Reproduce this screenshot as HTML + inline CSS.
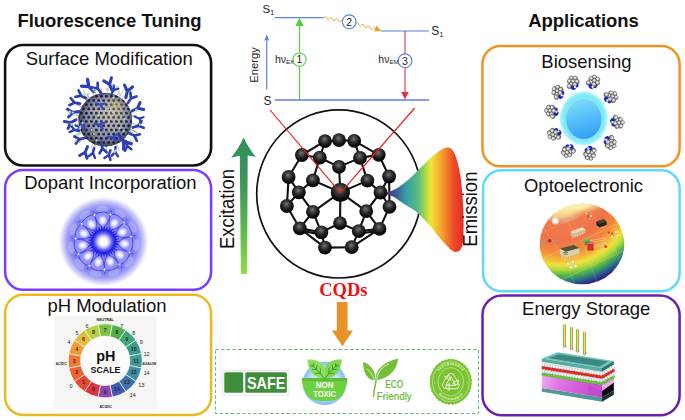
<!DOCTYPE html>
<html>
<head>
<meta charset="utf-8">
<title>CQDs Fluorescence Tuning and Applications</title>
<style>
html,body{margin:0;padding:0;background:#fff;}
body{width:685px;height:420px;overflow:hidden;font-family:"Liberation Sans",sans-serif;}
svg{display:block;}
text{font-family:"Liberation Sans",sans-serif;}
.lbl{font-size:19.1px;fill:#111;}
.ttl{font-size:19.1px;font-weight:bold;fill:#111;}
</style>
</head>
<body>
<svg width="685" height="420" viewBox="0 0 685 420">
<defs>
<radialGradient id="atomG" cx="0.46" cy="0.36" r="0.6" gradientUnits="objectBoundingBox">
<stop offset="0" stop-color="#747472"/><stop offset="0.4" stop-color="#363634"/><stop offset="0.75" stop-color="#121212"/><stop offset="1" stop-color="#060606"/>
</radialGradient>
<linearGradient id="excG" x1="0" y1="136" x2="0" y2="274" gradientUnits="userSpaceOnUse">
<stop offset="0" stop-color="#2f8f5e"/><stop offset="0.35" stop-color="#3c965a"/><stop offset="0.7" stop-color="#5fb84e"/><stop offset="1" stop-color="#93dc48"/>
</linearGradient>
<linearGradient id="emG" x1="386" y1="0" x2="464" y2="0" gradientUnits="userSpaceOnUse">
<stop offset="0" stop-color="#4a3876"/><stop offset="0.1" stop-color="#3f4f90"/><stop offset="0.26" stop-color="#35a0a6"/><stop offset="0.41" stop-color="#58bc80"/><stop offset="0.51" stop-color="#b2d945"/><stop offset="0.575" stop-color="#f0e634"/><stop offset="0.72" stop-color="#f3a02e"/><stop offset="0.87" stop-color="#ee4a27"/><stop offset="1" stop-color="#e3282b"/>
</linearGradient>
<radialGradient id="nanoG" cx="105.2" cy="118" r="27" fx="110" fy="110" gradientUnits="userSpaceOnUse">
<stop offset="0" stop-color="#d0d3e6"/><stop offset="0.6" stop-color="#aab0d0"/><stop offset="1" stop-color="#747aa2"/>
</radialGradient>
<pattern id="meshP" x="0" y="0" width="5" height="8.4" patternUnits="userSpaceOnUse">
<ellipse cx="1.25" cy="2.1" rx="1.6" ry="1.45" fill="#181824"/><ellipse cx="3.75" cy="6.3" rx="1.6" ry="1.45" fill="#181824"/>
</pattern>
<radialGradient id="nanoS" cx="105.2" cy="118" r="27" fx="119" fy="101" gradientUnits="userSpaceOnUse">
<stop offset="0" stop-color="#d4c070" stop-opacity="0.6"/><stop offset="0.4" stop-color="#a09460" stop-opacity="0.25"/><stop offset="0.8" stop-color="#30303c" stop-opacity="0.15"/><stop offset="1" stop-color="#1c1c26" stop-opacity="0.55"/>
</radialGradient>
<radialGradient id="dopGlow" cx="0.5" cy="0.5" r="0.5">
<stop offset="0" stop-color="#7272f0"/><stop offset="0.7" stop-color="#7e7ef2"/><stop offset="0.8" stop-color="#9a9af5"/><stop offset="0.9" stop-color="#cdcdfa"/><stop offset="0.97" stop-color="#f4f4fe"/><stop offset="1" stop-color="#ffffff"/>
</radialGradient>
<radialGradient id="dopPet" cx="0.5" cy="0.5" r="0.5">
<stop offset="0" stop-color="#ffffff"/><stop offset="0.4" stop-color="#ececff"/><stop offset="0.8" stop-color="#b4b4fa"/><stop offset="1" stop-color="#9292f5"/>
</radialGradient>
<radialGradient id="dopCore" cx="0.5" cy="0.5" r="0.5">
<stop offset="0" stop-color="#ffffff"/><stop offset="0.26" stop-color="#ffffff"/><stop offset="0.46" stop-color="#c8c8fc"/><stop offset="0.66" stop-color="#6a6af0"/><stop offset="0.86" stop-color="#2a2ae8"/><stop offset="1" stop-color="#2020e6"/>
</radialGradient>
<g id="mol">
<circle cx="0.8" cy="5.0" r="2.9" fill="#1020e4"/><circle cx="3.9" cy="2.6" r="2.4" fill="#1a2ee8"/>
<circle cx="-2.1" cy="-5.2" r="2.55" fill="url(#molG)" stroke="#3a3a3a" stroke-width="0.45"/>
<circle cx="2.1" cy="-5.2" r="2.55" fill="url(#molG)" stroke="#3a3a3a" stroke-width="0.45"/>
<circle cx="-4.2" cy="-1.7" r="2.55" fill="url(#molG)" stroke="#3a3a3a" stroke-width="0.45"/>
<circle cx="0" cy="-1.7" r="2.55" fill="url(#molG)" stroke="#3a3a3a" stroke-width="0.45"/>
<circle cx="4.2" cy="-1.7" r="2.55" fill="url(#molG)" stroke="#3a3a3a" stroke-width="0.45"/>
<circle cx="-2.1" cy="1.8" r="2.55" fill="url(#molG)" stroke="#3a3a3a" stroke-width="0.45"/>
<circle cx="2.1" cy="1.8" r="2.55" fill="url(#molG)" stroke="#3a3a3a" stroke-width="0.45"/>
<circle cx="-4.0" cy="4.0" r="2.55" fill="url(#molG)" stroke="#3a3a3a" stroke-width="0.45"/>
<circle cx="2.3" cy="4.7" r="1.25" fill="#f4f4ff"/>
</g>
<radialGradient id="molG" cx="0.42" cy="0.38" r="0.62">
<stop offset="0" stop-color="#ffffff"/><stop offset="0.35" stop-color="#cfcfcf"/><stop offset="0.75" stop-color="#8c8c8c"/><stop offset="1" stop-color="#3c3c3c"/>
</radialGradient>
<radialGradient id="bioGlow" cx="0.5" cy="0.5" r="0.5">
<stop offset="0" stop-color="#74e2f4"/><stop offset="0.76" stop-color="#78e6f5"/><stop offset="0.9" stop-color="#8feff7"/><stop offset="0.97" stop-color="#bdf6fa"/><stop offset="1" stop-color="#eafcfd"/>
</radialGradient>
<linearGradient id="bioIn" x1="0.35" y1="0" x2="0.6" y2="1">
<stop offset="0" stop-color="#82dcfb"/><stop offset="0.45" stop-color="#56c2f9"/><stop offset="1" stop-color="#339cf4"/>
</linearGradient>
<radialGradient id="optoG" cx="560" cy="190" r="100" gradientUnits="userSpaceOnUse">
<stop offset="0" stop-color="#f7f3b0"/><stop offset="0.2" stop-color="#f7f0ac"/><stop offset="0.27" stop-color="#f5c684"/><stop offset="0.34" stop-color="#f07c4e"/><stop offset="0.5" stop-color="#f0724a"/><stop offset="0.62" stop-color="#f4883a"/><stop offset="0.7" stop-color="#f2b83a"/><stop offset="0.75" stop-color="#eee23c"/><stop offset="0.8" stop-color="#b0d83e"/><stop offset="0.85" stop-color="#58b848"/><stop offset="0.91" stop-color="#2a7a80"/><stop offset="0.97" stop-color="#2b2a8c"/><stop offset="1" stop-color="#2b2a8c"/>
</radialGradient>
<linearGradient id="pinkG" x1="541.8" y1="376" x2="602" y2="398" gradientUnits="userSpaceOnUse">
<stop offset="0" stop-color="#eeb0f0"/><stop offset="0.25" stop-color="#e27ae4"/><stop offset="0.6" stop-color="#d45ad8"/><stop offset="1" stop-color="#c84ccf"/>
</linearGradient>
<radialGradient id="optoTop" cx="0.5" cy="0.5" r="0.5">
<stop offset="0" stop-color="#f8f4b4"/><stop offset="0.55" stop-color="#f8f0aa" stop-opacity="0.95"/><stop offset="1" stop-color="#f6d890" stop-opacity="0"/>
</radialGradient>
<!--DEFS-->
</defs>
<rect width="685" height="420" fill="#fff"/>

<!-- ===== Titles ===== -->
<text class="ttl" transform="translate(109.5 26.9) scale(0.967 1)" text-anchor="middle">Fluorescence Tuning</text>
<text class="ttl" transform="translate(583.5 26.9) scale(0.967 1)" text-anchor="middle">Applications</text>

<!-- ===== Left boxes ===== -->
<rect x="5.1" y="45" width="206" height="120.5" rx="18" ry="18" fill="#fff" stroke="#111" stroke-width="2.6"/>
<rect x="5.1" y="169.9" width="206" height="119.9" rx="18" ry="18" fill="#fff" stroke="#7b3cff" stroke-width="2.5"/>
<rect x="5.1" y="294.8" width="206" height="120.1" rx="18" ry="18" fill="#fff" stroke="#eab920" stroke-width="2.5"/>
<text class="lbl" transform="translate(109.3 65.1) scale(0.967 1)" text-anchor="middle">Surface Modification</text>
<text class="lbl" transform="translate(110.4 188.9) scale(0.967 1)" text-anchor="middle">Dopant Incorporation</text>
<text class="lbl" transform="translate(107.0 312.3) scale(0.967 1)" text-anchor="middle">pH Modulation</text>

<!-- ===== Right boxes ===== -->
<rect x="482.4" y="46.05" width="197.2" height="120.3" rx="18" ry="18" fill="#fff" stroke="#ee9422" stroke-width="2.5"/>
<rect x="483.1" y="170.3" width="196.5" height="120.9" rx="18" ry="18" fill="#fff" stroke="#5fd8fa" stroke-width="2.5"/>
<rect x="482.5" y="295.45" width="197.1" height="119.9" rx="19.5" ry="19.5" fill="#fff" stroke="#6a1fb0" stroke-width="2.5"/>
<text class="lbl" transform="translate(586.5 67.8) scale(0.967 1)" text-anchor="middle">Biosensing</text>
<text class="lbl" transform="translate(583.5 192.1) scale(0.967 1)" text-anchor="middle">Optoelectronic</text>
<text class="lbl" transform="translate(586.2 315.2) scale(0.967 1)" text-anchor="middle">Energy Storage</text>

<g id="nano" transform="translate(0 1.8)">
<g stroke="#55586a" stroke-width="0.4">
<line x1="94.4" y1="139.6" x2="91.0" y2="146.4"/>
<line x1="91.1" y1="98.4" x2="87.0" y2="92.6"/>
<line x1="81.7" y1="112.6" x2="73.0" y2="110.6"/>
<line x1="127.7" y1="126.6" x2="136.8" y2="130.1"/>
<line x1="128.7" y1="123.6" x2="137.7" y2="125.8"/>
<line x1="127.0" y1="128.2" x2="133.6" y2="131.3"/>
<line x1="83.7" y1="129.0" x2="73.4" y2="134.3"/>
<line x1="122.4" y1="134.9" x2="128.1" y2="140.6"/>
<line x1="88.4" y1="100.7" x2="79.8" y2="91.8"/>
<line x1="83.9" y1="106.8" x2="75.8" y2="102.5"/>
<line x1="129.1" y1="114.4" x2="135.9" y2="113.4"/>
<line x1="120.4" y1="99.3" x2="125.7" y2="92.7"/>
<line x1="120.1" y1="137.0" x2="124.6" y2="142.8"/>
<line x1="96.5" y1="140.5" x2="92.4" y2="151.3"/>
<line x1="115.4" y1="139.9" x2="119.7" y2="149.1"/>
<line x1="89.7" y1="99.5" x2="84.0" y2="92.7"/>
<line x1="82.2" y1="110.9" x2="75.4" y2="108.8"/>
<line x1="127.6" y1="126.8" x2="135.0" y2="129.7"/>
<line x1="95.0" y1="96.1" x2="91.1" y2="87.8"/>
<line x1="95.7" y1="140.2" x2="91.7" y2="149.6"/>
<line x1="82.1" y1="125.0" x2="74.0" y2="127.5"/>
<line x1="111.8" y1="94.8" x2="114.8" y2="84.4"/>
<line x1="106.1" y1="142.1" x2="106.5" y2="152.2"/>
<line x1="81.4" y1="114.2" x2="69.6" y2="112.3"/>
<line x1="102.1" y1="94.1" x2="101.0" y2="85.7"/>
<line x1="129.1" y1="115.0" x2="136.5" y2="114.1"/>
<line x1="84.2" y1="129.9" x2="74.4" y2="135.4"/>
<line x1="119.1" y1="137.7" x2="124.7" y2="145.5"/>
<line x1="128.6" y1="123.9" x2="139.0" y2="126.5"/>
<line x1="107.4" y1="94.0" x2="108.3" y2="83.9"/>
<line x1="122.3" y1="101.0" x2="128.4" y2="95.0"/>
<line x1="97.1" y1="95.3" x2="93.6" y2="85.6"/>
<line x1="84.1" y1="106.4" x2="75.8" y2="101.9"/>
<line x1="118.1" y1="97.6" x2="124.7" y2="87.2"/>
<line x1="81.4" y1="121.9" x2="70.9" y2="123.6"/>
<line x1="127.6" y1="127.0" x2="137.7" y2="131.0"/>
<line x1="90.7" y1="98.7" x2="83.1" y2="88.7"/>
<line x1="115.7" y1="96.3" x2="119.4" y2="88.8"/>
<line x1="87.0" y1="133.9" x2="79.0" y2="140.9"/>
<line x1="129.1" y1="121.4" x2="138.4" y2="122.7"/>
</g>
<circle cx="105.2" cy="118" r="26.8" fill="url(#nanoG)"/>
<circle cx="105.2" cy="118" r="26.8" fill="url(#meshP)"/>
<circle cx="105.2" cy="118" r="26.8" fill="url(#nanoS)"/>
<g transform="translate(90.4 86.3) rotate(-48) scale(1.40)"><path d="M0 3.5V-1.5M0 -1.5L-3.2 -5.6M0 -1.5L3.2 -5.6" fill="none" stroke="#2f3fb2" stroke-width="2.4" stroke-linecap="round" stroke-linejoin="round"/></g>
<g transform="translate(98.8 88.2) rotate(-39) scale(1.12)"><path d="M0 3.5V-1.5M0 -1.5L-3.2 -5.6M0 -1.5L3.2 -5.6" fill="none" stroke="#2f3fb2" stroke-width="2.4" stroke-linecap="round" stroke-linejoin="round"/></g>
<g transform="translate(110.3 84.3) rotate(-22) scale(1.29)"><path d="M0 3.5V-1.5M0 -1.5L-3.2 -5.6M0 -1.5L3.2 -5.6" fill="none" stroke="#2f3fb2" stroke-width="2.4" stroke-linecap="round" stroke-linejoin="round"/></g>
<g transform="translate(113.2 89.4) rotate(34) scale(0.90)"><path d="M0 3.5V-1.5M0 -1.5L-3.2 -5.6M0 -1.5L3.2 -5.6" fill="none" stroke="#2f3fb2" stroke-width="2.4" stroke-linecap="round" stroke-linejoin="round"/></g>
<g transform="translate(126.9 91.3) rotate(13) scale(1.29)"><path d="M0 3.5V-1.5M0 -1.5L-3.2 -5.6M0 -1.5L3.2 -5.6" fill="none" stroke="#2f3fb2" stroke-width="2.4" stroke-linecap="round" stroke-linejoin="round"/></g>
<g transform="translate(130.0 98.0) rotate(33) scale(1.12)"><path d="M0 3.5V-1.5M0 -1.5L-3.2 -5.6M0 -1.5L3.2 -5.6" fill="none" stroke="#2f3fb2" stroke-width="2.4" stroke-linecap="round" stroke-linejoin="round"/></g>
<g transform="translate(135.8 107.3) rotate(63) scale(1.23)"><path d="M0 3.5V-1.5M0 -1.5L-3.2 -5.6M0 -1.5L3.2 -5.6" fill="none" stroke="#2f3fb2" stroke-width="2.4" stroke-linecap="round" stroke-linejoin="round"/></g>
<g transform="translate(137.8 116.1) rotate(113) scale(0.90)"><path d="M0 3.5V-1.5M0 -1.5L-3.2 -5.6M0 -1.5L3.2 -5.6" fill="none" stroke="#2f3fb2" stroke-width="2.4" stroke-linecap="round" stroke-linejoin="round"/></g>
<g transform="translate(136.6 124.5) rotate(72) scale(1.12)"><path d="M0 3.5V-1.5M0 -1.5L-3.2 -5.6M0 -1.5L3.2 -5.6" fill="none" stroke="#2f3fb2" stroke-width="2.4" stroke-linecap="round" stroke-linejoin="round"/></g>
<g transform="translate(132.7 133.1) rotate(115) scale(1.12)"><path d="M0 3.5V-1.5M0 -1.5L-3.2 -5.6M0 -1.5L3.2 -5.6" fill="none" stroke="#2f3fb2" stroke-width="2.4" stroke-linecap="round" stroke-linejoin="round"/></g>
<g transform="translate(122.6 138.1) rotate(143) scale(1.46)"><path d="M0 3.5V-1.5M0 -1.5L-3.2 -5.6M0 -1.5L3.2 -5.6" fill="none" stroke="#2f3fb2" stroke-width="2.4" stroke-linecap="round" stroke-linejoin="round"/></g>
<g transform="translate(126.9 142.8) rotate(166) scale(1.01)"><path d="M0 3.5V-1.5M0 -1.5L-3.2 -5.6M0 -1.5L3.2 -5.6" fill="none" stroke="#2f3fb2" stroke-width="2.4" stroke-linecap="round" stroke-linejoin="round"/></g>
<g transform="translate(115.2 148.7) rotate(184) scale(1.01)"><path d="M0 3.5V-1.5M0 -1.5L-3.2 -5.6M0 -1.5L3.2 -5.6" fill="none" stroke="#2f3fb2" stroke-width="2.4" stroke-linecap="round" stroke-linejoin="round"/></g>
<g transform="translate(109.3 151.8) rotate(199) scale(1.01)"><path d="M0 3.5V-1.5M0 -1.5L-3.2 -5.6M0 -1.5L3.2 -5.6" fill="none" stroke="#2f3fb2" stroke-width="2.4" stroke-linecap="round" stroke-linejoin="round"/></g>
<g transform="translate(102.1 144.8) rotate(171) scale(1.12)"><path d="M0 3.5V-1.5M0 -1.5L-3.2 -5.6M0 -1.5L3.2 -5.6" fill="none" stroke="#2f3fb2" stroke-width="2.4" stroke-linecap="round" stroke-linejoin="round"/></g>
<g transform="translate(93.3 149.8) rotate(195) scale(1.01)"><path d="M0 3.5V-1.5M0 -1.5L-3.2 -5.6M0 -1.5L3.2 -5.6" fill="none" stroke="#2f3fb2" stroke-width="2.4" stroke-linecap="round" stroke-linejoin="round"/></g>
<g transform="translate(85.9 148.7) rotate(202) scale(1.23)"><path d="M0 3.5V-1.5M0 -1.5L-3.2 -5.6M0 -1.5L3.2 -5.6" fill="none" stroke="#2f3fb2" stroke-width="2.4" stroke-linecap="round" stroke-linejoin="round"/></g>
<g transform="translate(81.2 137.0) rotate(259) scale(1.12)"><path d="M0 3.5V-1.5M0 -1.5L-3.2 -5.6M0 -1.5L3.2 -5.6" fill="none" stroke="#2f3fb2" stroke-width="2.4" stroke-linecap="round" stroke-linejoin="round"/></g>
<g transform="translate(75.8 128.4) rotate(283) scale(1.01)"><path d="M0 3.5V-1.5M0 -1.5L-3.2 -5.6M0 -1.5L3.2 -5.6" fill="none" stroke="#2f3fb2" stroke-width="2.4" stroke-linecap="round" stroke-linejoin="round"/></g>
<g transform="translate(72.3 120.0) rotate(242) scale(1.23)"><path d="M0 3.5V-1.5M0 -1.5L-3.2 -5.6M0 -1.5L3.2 -5.6" fill="none" stroke="#2f3fb2" stroke-width="2.4" stroke-linecap="round" stroke-linejoin="round"/></g>
<g transform="translate(74.8 110.3) rotate(-98) scale(1.23)"><path d="M0 3.5V-1.5M0 -1.5L-3.2 -5.6M0 -1.5L3.2 -5.6" fill="none" stroke="#2f3fb2" stroke-width="2.4" stroke-linecap="round" stroke-linejoin="round"/></g>
<g transform="translate(76.2 101.1) rotate(-79) scale(1.12)"><path d="M0 3.5V-1.5M0 -1.5L-3.2 -5.6M0 -1.5L3.2 -5.6" fill="none" stroke="#2f3fb2" stroke-width="2.4" stroke-linecap="round" stroke-linejoin="round"/></g>
<g transform="translate(82.6 94.7) rotate(-63) scale(1.12)"><path d="M0 3.5V-1.5M0 -1.5L-3.2 -5.6M0 -1.5L3.2 -5.6" fill="none" stroke="#2f3fb2" stroke-width="2.4" stroke-linecap="round" stroke-linejoin="round"/></g>
<g transform="translate(81.2 124.9) rotate(253) scale(0.90)"><path d="M0 3.5V-1.5M0 -1.5L-3.2 -5.6M0 -1.5L3.2 -5.6" fill="none" stroke="#2f3fb2" stroke-width="2.4" stroke-linecap="round" stroke-linejoin="round"/></g>
<g transform="translate(99.0 102.6) rotate(110) scale(0.90)"><path d="M0 3.5V-1.5M0 -1.5L-3.2 -5.6M0 -1.5L3.2 -5.6" fill="none" stroke="#3a4cc4" stroke-width="2.4" stroke-linecap="round" stroke-linejoin="round"/></g>
<g transform="translate(98.1 122.6) rotate(105) scale(1.00)"><path d="M0 3.5V-1.5M0 -1.5L-3.2 -5.6M0 -1.5L3.2 -5.6" fill="none" stroke="#3a4cc4" stroke-width="2.4" stroke-linecap="round" stroke-linejoin="round"/></g>
<g transform="translate(111.0 135.4) rotate(95) scale(1.00)"><path d="M0 3.5V-1.5M0 -1.5L-3.2 -5.6M0 -1.5L3.2 -5.6" fill="none" stroke="#3a4cc4" stroke-width="2.4" stroke-linecap="round" stroke-linejoin="round"/></g>
<g transform="translate(82.5 122.4) rotate(190) scale(0.90)"><path d="M0 3.5V-1.5M0 -1.5L-3.2 -5.6M0 -1.5L3.2 -5.6" fill="none" stroke="#3a4cc4" stroke-width="2.4" stroke-linecap="round" stroke-linejoin="round"/></g>
<g fill="#bfe6cf" stroke="#7fae96" stroke-width="0.25">
<circle cx="98.4" cy="113.7" r="1.05"/>
<circle cx="72.7" cy="110.8" r="1.05"/>
<circle cx="93.4" cy="87.8" r="1.05"/>
<circle cx="80.3" cy="125.0" r="1.05"/>
<circle cx="91.5" cy="128.2" r="1.05"/>
<circle cx="131.5" cy="128.8" r="1.05"/>
<circle cx="130.8" cy="139.2" r="1.05"/>
<circle cx="69.8" cy="109.7" r="1.05"/>
<circle cx="112.8" cy="110.3" r="1.05"/>
<circle cx="137.1" cy="108.8" r="1.05"/>
<circle cx="115.0" cy="104.4" r="1.05"/>
<circle cx="96.8" cy="138.4" r="1.05"/>
<circle cx="71.5" cy="122.6" r="1.05"/>
<circle cx="136.2" cy="108.1" r="1.05"/>
<circle cx="106.8" cy="87.6" r="1.05"/>
<circle cx="95.2" cy="89.6" r="1.05"/>
<circle cx="94.0" cy="132.3" r="1.05"/>
<circle cx="83.4" cy="92.8" r="1.05"/>
<circle cx="117.3" cy="85.0" r="1.05"/>
<circle cx="115.2" cy="148.7" r="1.05"/>
<circle cx="108.1" cy="106.7" r="1.05"/>
<circle cx="80.1" cy="126.7" r="1.05"/>
<circle cx="119.9" cy="126.2" r="1.05"/>
<circle cx="114.6" cy="150.1" r="1.05"/>
<circle cx="71.8" cy="122.3" r="1.05"/>
<circle cx="119.8" cy="93.1" r="1.05"/>
<circle cx="82.6" cy="121.1" r="1.05"/>
<circle cx="123.6" cy="129.2" r="1.05"/>
<circle cx="75.6" cy="139.1" r="1.05"/>
<circle cx="124.3" cy="117.2" r="1.05"/>
<circle cx="113.4" cy="95.9" r="1.05"/>
<circle cx="88.2" cy="92.2" r="1.05"/>
<circle cx="139.9" cy="122.7" r="1.05"/>
<circle cx="69.5" cy="112.0" r="1.05"/>
</g>
</g>
<g id="dopant">
<circle cx="103.5" cy="241.6" r="45" fill="url(#dopGlow)"/>
<ellipse cx="128.9" cy="262.0" rx="3.4" ry="6.2" transform="rotate(38.8 128.9 262.0)" fill="#bcbcfb" opacity="0.55"/>
<ellipse cx="113.8" cy="272.5" rx="3.4" ry="6.2" transform="rotate(71.5 113.8 272.5)" fill="#bcbcfb" opacity="0.55"/>
<ellipse cx="95.5" cy="273.2" rx="3.4" ry="6.2" transform="rotate(104.2 95.5 273.2)" fill="#bcbcfb" opacity="0.55"/>
<ellipse cx="79.7" cy="263.9" rx="3.4" ry="6.2" transform="rotate(136.9 79.7 263.9)" fill="#bcbcfb" opacity="0.55"/>
<ellipse cx="71.4" cy="247.4" rx="3.4" ry="6.2" transform="rotate(169.7 71.4 247.4)" fill="#bcbcfb" opacity="0.55"/>
<ellipse cx="73.4" cy="229.2" rx="3.4" ry="6.2" transform="rotate(202.4 73.4 229.2)" fill="#bcbcfb" opacity="0.55"/>
<ellipse cx="84.9" cy="214.9" rx="3.4" ry="6.2" transform="rotate(235.1 84.9 214.9)" fill="#bcbcfb" opacity="0.55"/>
<ellipse cx="102.3" cy="209.0" rx="3.4" ry="6.2" transform="rotate(267.9 102.3 209.0)" fill="#bcbcfb" opacity="0.55"/>
<ellipse cx="120.1" cy="213.5" rx="3.4" ry="6.2" transform="rotate(300.6 120.1 213.5)" fill="#bcbcfb" opacity="0.55"/>
<ellipse cx="132.6" cy="227.0" rx="3.4" ry="6.2" transform="rotate(333.3 132.6 227.0)" fill="#bcbcfb" opacity="0.55"/>
<ellipse cx="135.9" cy="245.0" rx="3.4" ry="6.2" transform="rotate(366.0 135.9 245.0)" fill="#bcbcfb" opacity="0.55"/>
<path d="M114.0 250.1Q122.2 248.6 129.4 252.3C129.6 257.5 124.7 263.7 119.5 264.6Q114.4 258.4 114.0 250.1Z" fill="#9292f5" stroke="#2b2bea" stroke-width="0.7"/>
<ellipse cx="120.0" cy="254.9" rx="5.4" ry="4.6" transform="rotate(38.8 120.0 254.9)" fill="url(#dopPet)"/>
<path d="M107.8 254.4Q115.5 257.6 119.5 264.6C116.9 269.1 109.4 271.6 104.5 269.6Q103.6 261.6 107.8 254.4Z" fill="#9292f5" stroke="#2b2bea" stroke-width="0.7"/>
<ellipse cx="110.2" cy="261.7" rx="5.4" ry="4.6" transform="rotate(71.5 110.2 261.7)" fill="url(#dopPet)"/>
<path d="M100.2 254.7Q104.9 261.5 104.5 269.6C99.8 272.0 92.2 270.1 89.3 265.7Q92.7 258.5 100.2 254.7Z" fill="#9292f5" stroke="#2b2bea" stroke-width="0.7"/>
<ellipse cx="98.3" cy="262.2" rx="5.4" ry="4.6" transform="rotate(104.2 98.3 262.2)" fill="url(#dopPet)"/>
<path d="M93.6 250.8Q93.9 259.2 89.3 265.7C84.0 265.2 78.6 259.5 78.5 254.2Q85.3 250.0 93.6 250.8Z" fill="#9292f5" stroke="#2b2bea" stroke-width="0.7"/>
<ellipse cx="88.0" cy="256.1" rx="5.4" ry="4.6" transform="rotate(136.9 88.0 256.1)" fill="url(#dopPet)"/>
<path d="M90.2 244.0Q86.0 251.2 78.5 254.2C74.3 250.9 72.9 243.2 75.7 238.7Q83.7 238.8 90.2 244.0Z" fill="#9292f5" stroke="#2b2bea" stroke-width="0.7"/>
<ellipse cx="82.6" cy="245.4" rx="5.4" ry="4.6" transform="rotate(169.7 82.6 245.4)" fill="url(#dopPet)"/>
<path d="M91.0 236.5Q83.5 240.2 75.7 238.7C73.9 233.7 76.9 226.4 81.7 224.1Q88.4 228.5 91.0 236.5Z" fill="#9292f5" stroke="#2b2bea" stroke-width="0.7"/>
<ellipse cx="83.9" cy="233.5" rx="5.4" ry="4.6" transform="rotate(202.4 83.9 233.5)" fill="url(#dopPet)"/>
<path d="M95.8 230.5Q87.5 229.6 81.7 224.1C82.9 218.9 89.4 214.5 94.6 215.0Q97.8 222.4 95.8 230.5Z" fill="#9292f5" stroke="#2b2bea" stroke-width="0.7"/>
<ellipse cx="91.4" cy="224.2" rx="5.4" ry="4.6" transform="rotate(235.1 91.4 224.2)" fill="url(#dopPet)"/>
<path d="M103.0 228.1Q96.5 222.9 94.6 215.0C98.4 211.4 106.3 211.1 110.4 214.5Q109.1 222.4 103.0 228.1Z" fill="#9292f5" stroke="#2b2bea" stroke-width="0.7"/>
<ellipse cx="102.7" cy="220.4" rx="5.4" ry="4.6" transform="rotate(267.9 102.7 220.4)" fill="url(#dopPet)"/>
<path d="M110.4 230.0Q107.7 222.1 110.4 214.5C115.6 213.5 122.3 217.5 124.0 222.5Q118.6 228.5 110.4 230.0Z" fill="#9292f5" stroke="#2b2bea" stroke-width="0.7"/>
<ellipse cx="114.3" cy="223.3" rx="5.4" ry="4.6" transform="rotate(300.6 114.3 223.3)" fill="url(#dopPet)"/>
<path d="M115.6 235.5Q117.6 227.4 124.0 222.5C128.9 224.5 132.4 231.5 131.0 236.6Q123.3 238.7 115.6 235.5Z" fill="#9292f5" stroke="#2b2bea" stroke-width="0.7"/>
<ellipse cx="122.4" cy="232.1" rx="5.4" ry="4.6" transform="rotate(333.3 122.4 232.1)" fill="url(#dopPet)"/>
<path d="M116.9 243.0Q123.0 237.3 131.0 236.6C134.1 240.9 133.3 248.7 129.4 252.3Q121.7 249.9 116.9 243.0Z" fill="#9292f5" stroke="#2b2bea" stroke-width="0.7"/>
<ellipse cx="124.6" cy="243.8" rx="5.4" ry="4.6" transform="rotate(366.0 124.6 243.8)" fill="url(#dopPet)"/>
<line x1="126.2" y1="250.9" x2="133.5" y2="254.0" stroke="#2b2bea" stroke-width="0.6"/>
<path transform="translate(129.4 252.3) rotate(22.4)" d="M-2.8 0L-0.55 -0.55L0 -2.6L0.55 -0.55L2.8 0L0.55 0.55L0 2.6L-0.55 0.55Z" fill="#fff" stroke="#4a4af0" stroke-width="0.3"/>
<line x1="117.5" y1="261.7" x2="122.1" y2="268.3" stroke="#2b2bea" stroke-width="0.6"/>
<path transform="translate(119.5 264.6) rotate(55.1)" d="M-2.8 0L-0.55 -0.55L0 -2.6L0.55 -0.55L2.8 0L0.55 0.55L0 2.6L-0.55 0.55Z" fill="#fff" stroke="#4a4af0" stroke-width="0.3"/>
<line x1="104.4" y1="266.1" x2="104.7" y2="274.1" stroke="#2b2bea" stroke-width="0.6"/>
<path transform="translate(104.5 269.6) rotate(87.9)" d="M-2.8 0L-0.55 -0.55L0 -2.6L0.55 -0.55L2.8 0L0.55 0.55L0 2.6L-0.55 0.55Z" fill="#fff" stroke="#4a4af0" stroke-width="0.3"/>
<line x1="91.0" y1="262.7" x2="87.0" y2="269.6" stroke="#2b2bea" stroke-width="0.6"/>
<path transform="translate(89.3 265.7) rotate(120.6)" d="M-2.8 0L-0.55 -0.55L0 -2.6L0.55 -0.55L2.8 0L0.55 0.55L0 2.6L-0.55 0.55Z" fill="#fff" stroke="#4a4af0" stroke-width="0.3"/>
<line x1="81.6" y1="252.6" x2="74.5" y2="256.2" stroke="#2b2bea" stroke-width="0.6"/>
<path transform="translate(78.5 254.2) rotate(153.3)" d="M-2.8 0L-0.55 -0.55L0 -2.6L0.55 -0.55L2.8 0L0.55 0.55L0 2.6L-0.55 0.55Z" fill="#fff" stroke="#4a4af0" stroke-width="0.3"/>
<line x1="79.1" y1="239.0" x2="71.2" y2="238.2" stroke="#2b2bea" stroke-width="0.6"/>
<path transform="translate(75.7 238.7) rotate(186.0)" d="M-2.8 0L-0.55 -0.55L0 -2.6L0.55 -0.55L2.8 0L0.55 0.55L0 2.6L-0.55 0.55Z" fill="#fff" stroke="#4a4af0" stroke-width="0.3"/>
<line x1="84.4" y1="226.3" x2="78.2" y2="221.3" stroke="#2b2bea" stroke-width="0.6"/>
<path transform="translate(81.7 224.1) rotate(218.8)" d="M-2.8 0L-0.55 -0.55L0 -2.6L0.55 -0.55L2.8 0L0.55 0.55L0 2.6L-0.55 0.55Z" fill="#fff" stroke="#4a4af0" stroke-width="0.3"/>
<line x1="95.7" y1="218.4" x2="93.2" y2="210.8" stroke="#2b2bea" stroke-width="0.6"/>
<path transform="translate(94.6 215.0) rotate(251.5)" d="M-2.8 0L-0.55 -0.55L0 -2.6L0.55 -0.55L2.8 0L0.55 0.55L0 2.6L-0.55 0.55Z" fill="#fff" stroke="#4a4af0" stroke-width="0.3"/>
<line x1="109.5" y1="217.9" x2="111.5" y2="210.1" stroke="#2b2bea" stroke-width="0.6"/>
<path transform="translate(110.4 214.5) rotate(284.2)" d="M-2.8 0L-0.55 -0.55L0 -2.6L0.55 -0.55L2.8 0L0.55 0.55L0 2.6L-0.55 0.55Z" fill="#fff" stroke="#4a4af0" stroke-width="0.3"/>
<line x1="121.4" y1="224.9" x2="127.2" y2="219.4" stroke="#2b2bea" stroke-width="0.6"/>
<path transform="translate(124.0 222.5) rotate(316.9)" d="M-2.8 0L-0.55 -0.55L0 -2.6L0.55 -0.55L2.8 0L0.55 0.55L0 2.6L-0.55 0.55Z" fill="#fff" stroke="#4a4af0" stroke-width="0.3"/>
<line x1="127.6" y1="237.2" x2="135.5" y2="235.8" stroke="#2b2bea" stroke-width="0.6"/>
<path transform="translate(131.0 236.6) rotate(349.7)" d="M-2.8 0L-0.55 -0.55L0 -2.6L0.55 -0.55L2.8 0L0.55 0.55L0 2.6L-0.55 0.55Z" fill="#fff" stroke="#4a4af0" stroke-width="0.3"/>
<polygon points="118.3,247.7 113.8,247.0 116.9,250.4 112.5,248.9 115.0,252.8 111.0,250.4 112.6,254.7 109.2,251.7 110.0,256.2 107.2,252.6 107.1,257.2 105.0,253.1 104.1,257.6 102.8,253.2 101.1,257.4 100.7,252.8 98.1,256.7 98.6,252.1 95.4,255.4 96.7,251.0 92.9,253.6 95.0,249.5 90.8,251.4 93.7,247.8 89.2,248.8 92.7,245.8 88.1,246.0 92.1,243.7 87.6,243.0 91.9,241.5 87.6,239.9 92.1,239.3 88.2,236.9 92.8,237.2 89.4,234.1 93.8,235.2 91.0,231.6 95.2,233.5 93.1,229.4 96.9,232.1 95.6,227.7 98.8,231.0 98.4,226.4 100.9,230.3 101.4,225.7 103.1,230.0 104.4,225.6 105.3,230.1 107.4,226.1 107.4,230.7 110.3,227.1 109.4,231.6 112.9,228.7 111.2,232.9 115.2,230.7 112.7,234.5 117.0,233.1 113.9,236.4 118.4,235.8 114.7,238.4 119.2,238.7 115.1,240.6 119.5,241.8 115.0,242.8 119.2,244.8 114.6,245.0" fill="#2020e6"/>
<circle cx="103.5" cy="241.6" r="12.6" fill="url(#dopCore)"/>
</g>
<g id="ph">
<rect x="54" y="315.5" width="102.8" height="94.2" fill="#f5f5f4"/>
<path d="M98.0 324.5A37.0 37.0 0 0 1 112.4 324.5L110.0 336.6A24.7 24.7 0 0 0 100.4 336.6Z" fill="#7fc241" stroke="#f8f8f6" stroke-width="0.7"/>
<path d="M112.4 324.5A37.0 37.0 0 0 1 125.8 330.0L118.9 340.3A24.7 24.7 0 0 0 110.0 336.6Z" fill="#52b04a" stroke="#f8f8f6" stroke-width="0.7"/>
<path d="M125.8 330.0A37.0 37.0 0 0 1 136.0 340.2L125.7 347.1A24.7 24.7 0 0 0 118.9 340.3Z" fill="#3ea777" stroke="#f8f8f6" stroke-width="0.7"/>
<path d="M136.0 340.2A37.0 37.0 0 0 1 141.5 353.6L129.4 356.0A24.7 24.7 0 0 0 125.7 347.1Z" fill="#3a9d8b" stroke="#f8f8f6" stroke-width="0.7"/>
<path d="M141.5 353.6A37.0 37.0 0 0 1 141.5 368.0L129.4 365.6A24.7 24.7 0 0 0 129.4 356.0Z" fill="#3b9b97" stroke="#f8f8f6" stroke-width="0.7"/>
<path d="M141.5 368.0A37.0 37.0 0 0 1 136.0 381.4L125.7 374.5A24.7 24.7 0 0 0 129.4 365.6Z" fill="#3b8da0" stroke="#f8f8f6" stroke-width="0.7"/>
<path d="M136.0 381.4A37.0 37.0 0 0 1 125.8 391.6L118.9 381.3A24.7 24.7 0 0 0 125.7 374.5Z" fill="#3c73ab" stroke="#f8f8f6" stroke-width="0.7"/>
<path d="M125.8 391.6A37.0 37.0 0 0 1 112.4 397.1L110.0 385.0A24.7 24.7 0 0 0 118.9 381.3Z" fill="#4257b2" stroke="#f8f8f6" stroke-width="0.7"/>
<path d="M112.4 397.1A37.0 37.0 0 0 1 98.0 397.1L100.4 385.0A24.7 24.7 0 0 0 110.0 385.0Z" fill="#8d48ad" stroke="#f8f8f6" stroke-width="0.7"/>
<path d="M98.0 397.1A37.0 37.0 0 0 1 84.6 391.6L91.5 381.3A24.7 24.7 0 0 0 100.4 385.0Z" fill="#d8353f" stroke="#f8f8f6" stroke-width="0.7"/>
<path d="M84.6 391.6A37.0 37.0 0 0 1 74.4 381.4L84.7 374.5A24.7 24.7 0 0 0 91.5 381.3Z" fill="#e5482f" stroke="#f8f8f6" stroke-width="0.7"/>
<path d="M74.4 381.4A37.0 37.0 0 0 1 68.9 368.0L81.0 365.6A24.7 24.7 0 0 0 84.7 374.5Z" fill="#eb6330" stroke="#f8f8f6" stroke-width="0.7"/>
<path d="M68.9 368.0A37.0 37.0 0 0 1 68.9 353.6L81.0 356.0A24.7 24.7 0 0 0 81.0 365.6Z" fill="#ee7a31" stroke="#f8f8f6" stroke-width="0.7"/>
<path d="M68.9 353.6A37.0 37.0 0 0 1 74.4 340.2L84.7 347.1A24.7 24.7 0 0 0 81.0 356.0Z" fill="#f09a36" stroke="#f8f8f6" stroke-width="0.7"/>
<path d="M74.4 340.2A37.0 37.0 0 0 1 84.6 330.0L91.5 340.3A24.7 24.7 0 0 0 84.7 347.1Z" fill="#e3bd3a" stroke="#f8f8f6" stroke-width="0.7"/>
<path d="M84.6 330.0A37.0 37.0 0 0 1 98.0 324.5L100.4 336.6A24.7 24.7 0 0 0 91.5 340.3Z" fill="#b9cf3d" stroke="#f8f8f6" stroke-width="0.7"/>
<circle cx="105.2" cy="360.8" r="24.4" fill="#fbfbfb"/>
<g style="font-size:5.2px;font-weight:bold;fill:#2a2a2a" text-anchor="middle">
<text x="105.2" y="331.8">7</text>
<text x="117.0" y="334.1">8</text>
<text x="127.0" y="340.8">9</text>
<text x="133.7" y="350.8">10</text>
<text x="136.1" y="362.6">11</text>
<text x="133.7" y="374.4">12</text>
<text x="127.0" y="384.4">13</text>
<text x="117.0" y="391.1">14</text>
<text x="105.2" y="393.5">9</text>
<text x="93.4" y="391.1">0</text>
<text x="83.4" y="384.4">1</text>
<text x="76.7" y="374.4">2</text>
<text x="74.3" y="362.6">3</text>
<text x="76.7" y="350.8">4</text>
<text x="83.4" y="340.8">6</text>
<text x="93.4" y="334.1">8</text>
</g>
<g style="font-size:5.3px;fill:#1a1a1a" text-anchor="middle">
<text x="86.9" y="327.5">6</text>
<text x="76.9" y="334.8">5</text>
<text x="69.0" y="343.7">4</text>
<text x="122.1" y="327.5">7</text>
<text x="133.8" y="334.6">8</text>
<text x="141.2" y="344.1">9</text>
<text x="146.6" y="356.0">12</text>
<text x="146.6" y="375.1">14</text>
<text x="141.4" y="387.0">13</text>
<text x="132.8" y="397.2">14</text>
<text x="70.9" y="388.4">0</text>
</g>
<g style="font-size:3.6px;font-weight:bold;fill:#222" text-anchor="middle">
<text x="105.2" y="321.2">NEUTRAL</text>
<text x="105.7" y="407.6">ACIDIC</text>
<text x="61.2" y="364.6" style="font-size:3.2px">ACIDIC</text>
<text x="149.2" y="364.6" style="font-size:2.8px">ALKALINE</text>
</g>
<text x="105.9" y="360.9" text-anchor="middle" style="font-size:14.4px;font-weight:bold;fill:#111">pH</text>
<text x="105.5" y="372.8" text-anchor="middle" textLength="30" lengthAdjust="spacingAndGlyphs" style="font-size:8.6px;font-weight:bold;fill:#111">SCALE</text>
</g>
<!--LEFTIMAGES-->
<g id="bio">
<ellipse cx="583.8" cy="118.4" rx="24.3" ry="27.3" fill="url(#bioGlow)"/>
<ellipse cx="583.8" cy="119.0" rx="18.2" ry="20.6" fill="url(#bioIn)" stroke="#9be6fb" stroke-width="0.9"/>
<use href="#mol" transform="translate(573.1 82.9) rotate(3) scale(0.9)"/>
<use href="#mol" transform="translate(593.3 82.1) rotate(35) scale(0.9)"/>
<use href="#mol" transform="translate(610.7 97.1) rotate(72) scale(0.9)"/>
<use href="#mol" transform="translate(617.1 122.1) rotate(-244) scale(0.9)"/>
<use href="#mol" transform="translate(610 142.4) rotate(-208) scale(0.9)"/>
<use href="#mol" transform="translate(589.8 153.1) rotate(-170) scale(0.9)"/>
<use href="#mol" transform="translate(568.3 150.7) rotate(-134) scale(0.9)"/>
<use href="#mol" transform="translate(554.5 134) rotate(-98) scale(0.9)"/>
<use href="#mol" transform="translate(551.7 111.4) rotate(-58) scale(0.9)"/>
<use href="#mol" transform="translate(558.1 92.4) rotate(-25) scale(0.9)"/>
</g>
<g id="opto">
<clipPath id="optoClip"><ellipse cx="582" cy="243.9" rx="42.3" ry="40.4"/></clipPath>
<ellipse cx="582" cy="243.9" rx="42.3" ry="40.4" fill="url(#optoG)"/>
<g clip-path="url(#optoClip)">
<ellipse cx="577" cy="201" rx="30" ry="13" fill="url(#optoTop)"/>
<g stroke="#ffd9a0" stroke-opacity="0.35" stroke-width="0.6" fill="none">
<path d="M535 236 L600 206"/><path d="M535 262 L628 219"/><path d="M548 286 L630 248"/>
<path d="M556 206 L584 246 L600 290"/><path d="M584 204 L612 240 L626 280"/><path d="M540 222 L566 262 L578 292"/>
</g>
<path d="M535 262 L628 219 M548 286 L630 248" stroke="#d9f07a" stroke-opacity="0.25" stroke-width="0.6"/>
<!-- white LED with leads -->
<path d="M557 220.4 L577.5 216.4 M557 221.8 L577.8 218.2" stroke="#b9aba0" stroke-width="0.6"/>
<circle cx="555.4" cy="221" r="3.6" fill="#fff" opacity="0.55"/><circle cx="555.4" cy="221" r="2.3" fill="#fff"/>
<!-- colour dots -->
<rect x="585.6" y="212.6" width="1.7" height="1.7" fill="#f4e84a"/><rect x="588.4" y="213.6" width="1.7" height="1.7" fill="#5cc04a"/><rect x="587" y="215.6" width="1.7" height="1.7" fill="#e04030"/><rect x="590.3" y="215.2" width="1.7" height="1.7" fill="#f0f0d0"/>
<!-- black IC -->
<path d="M596.4 221.6 L603.6 219.2 L606.6 221.4 L606.6 225 L599.4 227.4 L596.4 225.2 Z" fill="#26221e"/>
<path d="M596.4 221.6 L603.6 219.2 L606.6 221.4 L599.4 223.8 Z" fill="#4a443c"/>
<path d="M597.5 226 v1.6 M600 227.4 v1.6 M602.5 226.6 v1.6 M605 225.8 v1.6" stroke="#d8d0c0" stroke-width="0.5"/>
<!-- tan resistor array -->
<path d="M570.6 231.4 L582.6 227.2 L585.4 229.4 L585.4 233 L573.4 237.2 L570.6 235 Z" fill="#d9b98c"/>
<path d="M570.6 231.4 L582.6 227.2 L585.4 229.4 L573.4 233.6 Z" fill="#efd9b4"/>
<path d="M572.4 236.6 v2.2 M575 235.8 v2.2 M577.6 235 v2.2 M580.2 234 v2.2 M582.8 233.2 v2.2" stroke="#e8e0d0" stroke-width="0.55"/>
<!-- small parts right -->
<rect x="607.8" y="231.6" width="2" height="2" fill="#e23b32"/><rect x="611.2" y="232.6" width="2" height="2" fill="#e23b32"/><rect x="615" y="231" width="2.2" height="2" fill="#f3ead8"/>
<rect x="611" y="236" width="2.2" height="2" fill="#f3ead8"/><rect x="616.6" y="234.6" width="2.2" height="2" fill="#efe4cf"/>
<!-- diode -->
<path d="M540.5 241.6 L560 240" stroke="#a89a94" stroke-width="1.1"/>
<ellipse cx="549.6" cy="240.8" rx="2" ry="1.7" fill="#c8242a"/>
<!-- green & red LEDs with leads -->
<path d="M590 240.6 L606 237.8 M590.6 242.4 L606.6 239.6 M592 245.400 L607 242.600 M592 247.400 L607.600 244.600" stroke="#e6e0c0" stroke-width="0.5"/>
<rect x="584.8" y="239.2" width="5" height="6" fill="#2fa84a"/><rect x="584.8" y="239.2" width="5" height="1.4" fill="#5fd070"/>
<rect x="587.4" y="242.4" width="6.2" height="8.2" fill="#d62f2c"/><rect x="587.4" y="242.4" width="6.2" height="1.6" fill="#f06a5a"/>
<path d="M596 252.4 L604.6 247.2" stroke="#e6e0c0" stroke-width="0.5"/><circle cx="605.6" cy="246.6" r="1.5" fill="#f03a30"/>
<!-- large DIP IC -->
<path d="M560 248.6 L573.6 244.8 L579.4 248 L579.4 253.6 L565.8 257.6 L560 254.2 Z" fill="#d8cfa4"/>
<path d="M560 248.6 L573.6 244.8 L579.4 248 L565.8 251.800 Z" fill="#55503a"/>
<path d="M562 256 v2.600 M564.400 257.200 v2.600 M567 257.600 v2.600 M569.600 256.800 v2.600 M572.200 256 v2.600 M574.800 255.300 v2.600 M577.400 254.500 v2.600" stroke="#ece6d0" stroke-width="0.55"/>
<path d="M563 252.600 h5 M563.600 254.200 h4" stroke="#403a30" stroke-width="0.6"/>
<!-- white cluster -->
<g fill="#f4f1ea" stroke="#c9c2b4" stroke-width="0.3">
<rect x="567" y="262.600" width="2.600" height="2.400" transform="rotate(-20 568 264)"/><rect x="571.500" y="261" width="2.600" height="2.400" transform="rotate(-20 572 262)"/>
<rect x="569.600" y="266.400" width="2.600" height="2.400" transform="rotate(-20 570 267)"/><rect x="574.200" y="265" width="2.600" height="2.400" transform="rotate(-20 575 266)"/>
</g>
</g>
</g>
<g id="estore">
<rect x="563.0" y="324.3" width="1" height="21.9" fill="#4fd267"/>
<rect x="564.0" y="324.3" width="1" height="23.3" fill="#f0e63c"/>
<rect x="565.0" y="324.3" width="1" height="21.9" fill="#f58a3c"/>
<path d="M561.9 345.2L564.5 348.6L564.5 346.0Z" fill="#4aa8ea"/>
<path d="M567.1 345.2L564.5 348.6L564.5 346.0Z" fill="#f0505a"/>
<path d="M563.8 346.0L564.5 348.6L565.2 346.0Z" fill="#e6ee40"/>
<rect x="570.0" y="327.1" width="1" height="21.5" fill="#4fd267"/>
<rect x="571.0" y="327.1" width="1" height="22.9" fill="#f0e63c"/>
<rect x="572.0" y="327.1" width="1" height="21.5" fill="#f58a3c"/>
<path d="M568.9 347.6L571.5 351.0L571.5 348.4Z" fill="#4aa8ea"/>
<path d="M574.1 347.6L571.5 351.0L571.5 348.4Z" fill="#f0505a"/>
<path d="M570.8 348.4L571.5 351.0L572.2 348.4Z" fill="#e6ee40"/>
<rect x="576.0" y="329.3" width="1" height="21.6" fill="#4fd267"/>
<rect x="577.0" y="329.3" width="1" height="23.0" fill="#f0e63c"/>
<rect x="578.0" y="329.3" width="1" height="21.6" fill="#f58a3c"/>
<path d="M574.9 349.9L577.5 353.3L577.5 350.7Z" fill="#4aa8ea"/>
<path d="M580.1 349.9L577.5 353.3L577.5 350.7Z" fill="#f0505a"/>
<path d="M576.8 350.7L577.5 353.3L578.2 350.7Z" fill="#e6ee40"/>
<rect x="583.0" y="331.9" width="1" height="21.7" fill="#4fd267"/>
<rect x="584.0" y="331.9" width="1" height="23.1" fill="#f0e63c"/>
<rect x="585.0" y="331.9" width="1" height="21.7" fill="#f58a3c"/>
<path d="M581.9 352.6L584.5 356.0L584.5 353.4Z" fill="#4aa8ea"/>
<path d="M587.1 352.6L584.5 356.0L584.5 353.4Z" fill="#f0505a"/>
<path d="M583.8 353.4L584.5 356.0L585.2 353.4Z" fill="#e6ee40"/>
<path d="M541.8 388.0L602.0 397.5L602.0 401.7L541.8 391.8Z" fill="#4d9c94"/>
<path d="M602.0 397.5L613.8 390.6L613.8 394.8L602.0 401.7Z" fill="#1c2a2a"/>
<path d="M541.8 375.2L602.0 384.7L602.0 397.5L541.8 388.0Z" fill="url(#pinkG)"/>
<path d="M602.0 384.7L613.8 377.8L613.8 390.6L602.0 397.5Z" fill="#f0a6f2"/>
<path d="M602.0 390.9L613.8 382.8L613.8 390.6L602.0 397.5Z" fill="#0c0c10"/>
<path d="M588.0 385.5L602.0 390.5L602.0 397.5L588.0 395.3Z" fill="#b848c2" opacity="0.55"/>
<circle cx="613.0" cy="377.1" r="1.6" fill="#6ccf3a" stroke="#3c8f20" stroke-width="0.35"/>
<circle cx="610.6" cy="378.5" r="1.6" fill="#6ccf3a" stroke="#3c8f20" stroke-width="0.35"/>
<circle cx="608.3" cy="379.8" r="1.6" fill="#6ccf3a" stroke="#3c8f20" stroke-width="0.35"/>
<circle cx="605.9" cy="381.2" r="1.6" fill="#6ccf3a" stroke="#3c8f20" stroke-width="0.35"/>
<circle cx="603.6" cy="382.6" r="1.6" fill="#6ccf3a" stroke="#3c8f20" stroke-width="0.35"/>
<circle cx="543.3" cy="374.2" r="1.65" fill="#6ccf3a" stroke="#3c8f20" stroke-width="0.35"/>
<circle cx="546.1" cy="374.7" r="1.65" fill="#6ccf3a" stroke="#3c8f20" stroke-width="0.35"/>
<circle cx="548.8" cy="375.1" r="1.65" fill="#6ccf3a" stroke="#3c8f20" stroke-width="0.35"/>
<circle cx="551.6" cy="375.5" r="1.65" fill="#6ccf3a" stroke="#3c8f20" stroke-width="0.35"/>
<circle cx="554.3" cy="376.0" r="1.65" fill="#6ccf3a" stroke="#3c8f20" stroke-width="0.35"/>
<circle cx="557.1" cy="376.4" r="1.65" fill="#6ccf3a" stroke="#3c8f20" stroke-width="0.35"/>
<circle cx="559.9" cy="376.9" r="1.65" fill="#6ccf3a" stroke="#3c8f20" stroke-width="0.35"/>
<circle cx="562.6" cy="377.3" r="1.65" fill="#6ccf3a" stroke="#3c8f20" stroke-width="0.35"/>
<circle cx="565.4" cy="377.7" r="1.65" fill="#6ccf3a" stroke="#3c8f20" stroke-width="0.35"/>
<circle cx="568.2" cy="378.2" r="1.65" fill="#6ccf3a" stroke="#3c8f20" stroke-width="0.35"/>
<circle cx="570.9" cy="378.6" r="1.65" fill="#6ccf3a" stroke="#3c8f20" stroke-width="0.35"/>
<circle cx="573.7" cy="379.0" r="1.65" fill="#6ccf3a" stroke="#3c8f20" stroke-width="0.35"/>
<circle cx="576.4" cy="379.5" r="1.65" fill="#6ccf3a" stroke="#3c8f20" stroke-width="0.35"/>
<circle cx="579.2" cy="379.9" r="1.65" fill="#6ccf3a" stroke="#3c8f20" stroke-width="0.35"/>
<circle cx="582.0" cy="380.3" r="1.65" fill="#6ccf3a" stroke="#3c8f20" stroke-width="0.35"/>
<circle cx="584.7" cy="380.8" r="1.65" fill="#6ccf3a" stroke="#3c8f20" stroke-width="0.35"/>
<circle cx="587.5" cy="381.2" r="1.65" fill="#6ccf3a" stroke="#3c8f20" stroke-width="0.35"/>
<circle cx="590.3" cy="381.7" r="1.65" fill="#6ccf3a" stroke="#3c8f20" stroke-width="0.35"/>
<circle cx="593.0" cy="382.1" r="1.65" fill="#6ccf3a" stroke="#3c8f20" stroke-width="0.35"/>
<circle cx="595.8" cy="382.5" r="1.65" fill="#6ccf3a" stroke="#3c8f20" stroke-width="0.35"/>
<circle cx="598.5" cy="383.0" r="1.65" fill="#6ccf3a" stroke="#3c8f20" stroke-width="0.35"/>
<circle cx="601.3" cy="383.4" r="1.65" fill="#6ccf3a" stroke="#3c8f20" stroke-width="0.35"/>
<circle cx="613.0" cy="374.0" r="1.6" fill="#f6f6f6" stroke="#9a9a9a" stroke-width="0.35"/>
<circle cx="610.6" cy="375.4" r="1.6" fill="#f6f6f6" stroke="#9a9a9a" stroke-width="0.35"/>
<circle cx="608.3" cy="376.7" r="1.6" fill="#f6f6f6" stroke="#9a9a9a" stroke-width="0.35"/>
<circle cx="605.9" cy="378.1" r="1.6" fill="#f6f6f6" stroke="#9a9a9a" stroke-width="0.35"/>
<circle cx="603.6" cy="379.5" r="1.6" fill="#f6f6f6" stroke="#9a9a9a" stroke-width="0.35"/>
<circle cx="543.3" cy="371.1" r="1.65" fill="#f6f6f6" stroke="#9a9a9a" stroke-width="0.35"/>
<circle cx="546.1" cy="371.6" r="1.65" fill="#f6f6f6" stroke="#9a9a9a" stroke-width="0.35"/>
<circle cx="548.8" cy="372.0" r="1.65" fill="#f6f6f6" stroke="#9a9a9a" stroke-width="0.35"/>
<circle cx="551.6" cy="372.4" r="1.65" fill="#f6f6f6" stroke="#9a9a9a" stroke-width="0.35"/>
<circle cx="554.3" cy="372.9" r="1.65" fill="#f6f6f6" stroke="#9a9a9a" stroke-width="0.35"/>
<circle cx="557.1" cy="373.3" r="1.65" fill="#f6f6f6" stroke="#9a9a9a" stroke-width="0.35"/>
<circle cx="559.9" cy="373.8" r="1.65" fill="#f6f6f6" stroke="#9a9a9a" stroke-width="0.35"/>
<circle cx="562.6" cy="374.2" r="1.65" fill="#f6f6f6" stroke="#9a9a9a" stroke-width="0.35"/>
<circle cx="565.4" cy="374.6" r="1.65" fill="#f6f6f6" stroke="#9a9a9a" stroke-width="0.35"/>
<circle cx="568.2" cy="375.1" r="1.65" fill="#f6f6f6" stroke="#9a9a9a" stroke-width="0.35"/>
<circle cx="570.9" cy="375.5" r="1.65" fill="#f6f6f6" stroke="#9a9a9a" stroke-width="0.35"/>
<circle cx="573.7" cy="375.9" r="1.65" fill="#f6f6f6" stroke="#9a9a9a" stroke-width="0.35"/>
<circle cx="576.4" cy="376.4" r="1.65" fill="#f6f6f6" stroke="#9a9a9a" stroke-width="0.35"/>
<circle cx="579.2" cy="376.8" r="1.65" fill="#f6f6f6" stroke="#9a9a9a" stroke-width="0.35"/>
<circle cx="582.0" cy="377.2" r="1.65" fill="#f6f6f6" stroke="#9a9a9a" stroke-width="0.35"/>
<circle cx="584.7" cy="377.7" r="1.65" fill="#f6f6f6" stroke="#9a9a9a" stroke-width="0.35"/>
<circle cx="587.5" cy="378.1" r="1.65" fill="#f6f6f6" stroke="#9a9a9a" stroke-width="0.35"/>
<circle cx="590.3" cy="378.6" r="1.65" fill="#f6f6f6" stroke="#9a9a9a" stroke-width="0.35"/>
<circle cx="593.0" cy="379.0" r="1.65" fill="#f6f6f6" stroke="#9a9a9a" stroke-width="0.35"/>
<circle cx="595.8" cy="379.4" r="1.65" fill="#f6f6f6" stroke="#9a9a9a" stroke-width="0.35"/>
<circle cx="598.5" cy="379.9" r="1.65" fill="#f6f6f6" stroke="#9a9a9a" stroke-width="0.35"/>
<circle cx="601.3" cy="380.3" r="1.65" fill="#f6f6f6" stroke="#9a9a9a" stroke-width="0.35"/>
<circle cx="613.0" cy="370.6" r="1.6" fill="#ee2a24" stroke="#a01410" stroke-width="0.35"/>
<circle cx="610.6" cy="372.0" r="1.6" fill="#ee2a24" stroke="#a01410" stroke-width="0.35"/>
<circle cx="608.3" cy="373.3" r="1.6" fill="#ee2a24" stroke="#a01410" stroke-width="0.35"/>
<circle cx="605.9" cy="374.7" r="1.6" fill="#ee2a24" stroke="#a01410" stroke-width="0.35"/>
<circle cx="603.6" cy="376.1" r="1.6" fill="#ee2a24" stroke="#a01410" stroke-width="0.35"/>
<circle cx="543.3" cy="367.7" r="1.65" fill="#ee2a24" stroke="#a01410" stroke-width="0.35"/>
<circle cx="546.1" cy="368.2" r="1.65" fill="#ee2a24" stroke="#a01410" stroke-width="0.35"/>
<circle cx="548.8" cy="368.6" r="1.65" fill="#ee2a24" stroke="#a01410" stroke-width="0.35"/>
<circle cx="551.6" cy="369.0" r="1.65" fill="#ee2a24" stroke="#a01410" stroke-width="0.35"/>
<circle cx="554.3" cy="369.5" r="1.65" fill="#ee2a24" stroke="#a01410" stroke-width="0.35"/>
<circle cx="557.1" cy="369.9" r="1.65" fill="#ee2a24" stroke="#a01410" stroke-width="0.35"/>
<circle cx="559.9" cy="370.4" r="1.65" fill="#ee2a24" stroke="#a01410" stroke-width="0.35"/>
<circle cx="562.6" cy="370.8" r="1.65" fill="#ee2a24" stroke="#a01410" stroke-width="0.35"/>
<circle cx="565.4" cy="371.2" r="1.65" fill="#ee2a24" stroke="#a01410" stroke-width="0.35"/>
<circle cx="568.2" cy="371.7" r="1.65" fill="#ee2a24" stroke="#a01410" stroke-width="0.35"/>
<circle cx="570.9" cy="372.1" r="1.65" fill="#ee2a24" stroke="#a01410" stroke-width="0.35"/>
<circle cx="573.7" cy="372.5" r="1.65" fill="#ee2a24" stroke="#a01410" stroke-width="0.35"/>
<circle cx="576.4" cy="373.0" r="1.65" fill="#ee2a24" stroke="#a01410" stroke-width="0.35"/>
<circle cx="579.2" cy="373.4" r="1.65" fill="#ee2a24" stroke="#a01410" stroke-width="0.35"/>
<circle cx="582.0" cy="373.8" r="1.65" fill="#ee2a24" stroke="#a01410" stroke-width="0.35"/>
<circle cx="584.7" cy="374.3" r="1.65" fill="#ee2a24" stroke="#a01410" stroke-width="0.35"/>
<circle cx="587.5" cy="374.7" r="1.65" fill="#ee2a24" stroke="#a01410" stroke-width="0.35"/>
<circle cx="590.3" cy="375.2" r="1.65" fill="#ee2a24" stroke="#a01410" stroke-width="0.35"/>
<circle cx="593.0" cy="375.6" r="1.65" fill="#ee2a24" stroke="#a01410" stroke-width="0.35"/>
<circle cx="595.8" cy="376.0" r="1.65" fill="#ee2a24" stroke="#a01410" stroke-width="0.35"/>
<circle cx="598.5" cy="376.5" r="1.65" fill="#ee2a24" stroke="#a01410" stroke-width="0.35"/>
<circle cx="601.3" cy="376.9" r="1.65" fill="#ee2a24" stroke="#a01410" stroke-width="0.35"/>
<circle cx="613.0" cy="367.5" r="1.6" fill="#f6f6f6" stroke="#9a9a9a" stroke-width="0.35"/>
<circle cx="610.6" cy="368.9" r="1.6" fill="#f6f6f6" stroke="#9a9a9a" stroke-width="0.35"/>
<circle cx="608.3" cy="370.2" r="1.6" fill="#f6f6f6" stroke="#9a9a9a" stroke-width="0.35"/>
<circle cx="605.9" cy="371.6" r="1.6" fill="#f6f6f6" stroke="#9a9a9a" stroke-width="0.35"/>
<circle cx="603.6" cy="373.0" r="1.6" fill="#f6f6f6" stroke="#9a9a9a" stroke-width="0.35"/>
<circle cx="543.3" cy="364.6" r="1.65" fill="#f6f6f6" stroke="#9a9a9a" stroke-width="0.35"/>
<circle cx="546.1" cy="365.1" r="1.65" fill="#f6f6f6" stroke="#9a9a9a" stroke-width="0.35"/>
<circle cx="548.8" cy="365.5" r="1.65" fill="#f6f6f6" stroke="#9a9a9a" stroke-width="0.35"/>
<circle cx="551.6" cy="365.9" r="1.65" fill="#f6f6f6" stroke="#9a9a9a" stroke-width="0.35"/>
<circle cx="554.3" cy="366.4" r="1.65" fill="#f6f6f6" stroke="#9a9a9a" stroke-width="0.35"/>
<circle cx="557.1" cy="366.8" r="1.65" fill="#f6f6f6" stroke="#9a9a9a" stroke-width="0.35"/>
<circle cx="559.9" cy="367.3" r="1.65" fill="#f6f6f6" stroke="#9a9a9a" stroke-width="0.35"/>
<circle cx="562.6" cy="367.7" r="1.65" fill="#f6f6f6" stroke="#9a9a9a" stroke-width="0.35"/>
<circle cx="565.4" cy="368.1" r="1.65" fill="#f6f6f6" stroke="#9a9a9a" stroke-width="0.35"/>
<circle cx="568.2" cy="368.6" r="1.65" fill="#f6f6f6" stroke="#9a9a9a" stroke-width="0.35"/>
<circle cx="570.9" cy="369.0" r="1.65" fill="#f6f6f6" stroke="#9a9a9a" stroke-width="0.35"/>
<circle cx="573.7" cy="369.4" r="1.65" fill="#f6f6f6" stroke="#9a9a9a" stroke-width="0.35"/>
<circle cx="576.4" cy="369.9" r="1.65" fill="#f6f6f6" stroke="#9a9a9a" stroke-width="0.35"/>
<circle cx="579.2" cy="370.3" r="1.65" fill="#f6f6f6" stroke="#9a9a9a" stroke-width="0.35"/>
<circle cx="582.0" cy="370.7" r="1.65" fill="#f6f6f6" stroke="#9a9a9a" stroke-width="0.35"/>
<circle cx="584.7" cy="371.2" r="1.65" fill="#f6f6f6" stroke="#9a9a9a" stroke-width="0.35"/>
<circle cx="587.5" cy="371.6" r="1.65" fill="#f6f6f6" stroke="#9a9a9a" stroke-width="0.35"/>
<circle cx="590.3" cy="372.1" r="1.65" fill="#f6f6f6" stroke="#9a9a9a" stroke-width="0.35"/>
<circle cx="593.0" cy="372.5" r="1.65" fill="#f6f6f6" stroke="#9a9a9a" stroke-width="0.35"/>
<circle cx="595.8" cy="372.9" r="1.65" fill="#f6f6f6" stroke="#9a9a9a" stroke-width="0.35"/>
<circle cx="598.5" cy="373.4" r="1.65" fill="#f6f6f6" stroke="#9a9a9a" stroke-width="0.35"/>
<circle cx="601.3" cy="373.8" r="1.65" fill="#f6f6f6" stroke="#9a9a9a" stroke-width="0.35"/>
<path d="M541.8 358.4L557.8 352.3L613.8 361L602.0 367.9Z" fill="#6cc3b8"/>
<path d="M548.6 358.09999999999997L559.4 354.2L608.2 361.4L599.4 366.5Z" fill="#3c8781"/>
<path d="M541.8 358.4L602.0 367.9L602.0 371.7L541.8 361.79999999999995Z" fill="#58aaa2"/>
<path d="M602.0 367.9L613.8 361L613.8 364.59999999999997L602.0 371.7Z" fill="#2f6f6b"/>
</g>
<!--RIGHTIMAGES-->

<!-- ===== Energy diagram ===== -->
<g id="energy">
<line x1="274.8" y1="17.6" x2="323.8" y2="17.6" stroke="#5b7fe0" stroke-width="1.2"/>
<line x1="381" y1="31" x2="429" y2="31" stroke="#5b7fe0" stroke-width="1.2"/>
<line x1="274.8" y1="100" x2="429" y2="100" stroke="#5b7fe0" stroke-width="1.3"/>
<!-- energy axis arrow -->
<line x1="266.7" y1="89.5" x2="266.7" y2="37" stroke="#5b7fe0" stroke-width="1.2"/>
<path d="M266.7 34.4 L269.3 41 L266.7 39.6 L264.1 41 Z" fill="#5b7fe0"/>
<text x="0" y="0" transform="translate(257.5 65) rotate(-90)" text-anchor="middle" style="font-size:11.2px;fill:#222">Energy</text>
<!-- green excitation -->
<line x1="299.5" y1="100" x2="299.5" y2="25" stroke="#55cc44" stroke-width="1.2"/>
<path d="M299.5 17.8 L303.7 26 L295.3 26 Z" fill="#55cc44"/>
<circle cx="299.5" cy="59.6" r="6.6" fill="#fff" stroke="#55cc44" stroke-width="1.1"/>
<text x="299.5" y="63.3" text-anchor="middle" style="font-size:10.5px;fill:#222">1</text>
<text x="275" y="62.6" style="font-size:10.5px;fill:#222">hν<tspan dy="1.7" style="font-size:6px">EX</tspan></text>
<!-- wavy relaxation -->
<path d="M323.8 17.6L324.4 17.1L325.0 16.7L325.5 16.6L325.9 16.9L326.3 17.4L326.7 18.1L327.1 18.8L327.5 19.3L327.9 19.6L328.4 19.5L329.0 19.1L329.6 18.6L330.2 18.1L330.7 17.7L331.2 17.6L331.7 17.9L332.1 18.4L332.5 19.1L332.9 19.8L333.3 20.4L333.7 20.6L334.2 20.5L334.8 20.2L335.4 19.6L336.0 19.1L336.5 18.7L337.0 18.7L337.5 18.9L337.9 19.4L338.3 20.1L338.6 20.8L339.0 21.4L339.5 21.6L340.0 21.5L340.6 21.2L341.2 20.6L341.7 20.1L342.3 19.7L342.8 19.7" fill="none" stroke="#e8a030" stroke-width="1" stroke-linejoin="round"/>
<path d="M356.0 23.4L356.6 22.9L357.3 22.7L357.8 22.6L358.2 22.9L358.5 23.5L358.8 24.3L359.1 25.0L359.4 25.6L359.8 25.9L360.3 25.9L361.0 25.6L361.6 25.1L362.2 24.7L362.9 24.4L363.4 24.3L363.8 24.7L364.1 25.2L364.4 26.0L364.7 26.7L365.0 27.3L365.4 27.6L365.9 27.6L366.6 27.3L367.2 26.8L367.8 26.4L368.5 26.1L369.0 26.1L369.4 26.4L369.7 26.9L370.0 27.7L370.3 28.4L370.6 29.0L371.0 29.3L371.5 29.3L372.2 29.0L372.8 28.5L373.4 28.1L374.1 27.8L374.6 27.8L375.0 28.1L375.3 28.7L375.6 29.4" fill="none" stroke="#e8a030" stroke-width="1" stroke-linejoin="round"/>
<path d="M381.2 31 L374.2 31.6 L376.6 25.6 Z" fill="#e8a030"/>
<circle cx="349.2" cy="21.8" r="6.9" fill="#fff" stroke="#5b7fe0" stroke-width="1.1"/>
<text x="349.2" y="25.6" text-anchor="middle" style="font-size:10.5px;fill:#222">2</text>
<!-- red emission -->
<line x1="405" y1="31" x2="405" y2="93" stroke="#e0405a" stroke-width="1.2"/>
<path d="M405 99.6 L401.2 92 L408.8 92 Z" fill="#e0304a"/>
<circle cx="405" cy="60.8" r="6.9" fill="#fff" stroke="#5b7fe0" stroke-width="1.1"/>
<text x="405" y="64.6" text-anchor="middle" style="font-size:10.5px;fill:#222">3</text>
<text x="378.3" y="62.6" style="font-size:10.5px;fill:#222">hν<tspan dy="1.7" style="font-size:6px">EM</tspan></text>
<!-- labels -->
<text x="262.4" y="13.2" style="font-size:11.5px;fill:#222">S<tspan dy="1.8" dx="0.3" style="font-size:7px">1</tspan></text>
<text x="431.3" y="35" style="font-size:12px;fill:#222">S<tspan dy="1.8" dx="0.3" style="font-size:7px">1</tspan></text>
<text x="263.6" y="104.9" style="font-size:12px;fill:#222">S</text>
</g>

<!-- ===== Centre circle ===== -->
<ellipse cx="338.9" cy="193.95" rx="82.2" ry="84.05" fill="none" stroke="#111" stroke-width="1.7"/>
<g id="fullerene">
<g stroke="#121212" stroke-width="2.1" stroke-linecap="round">
<line x1="325" y1="141.2" x2="339" y2="140.2"/>
<line x1="339" y1="140.2" x2="354.2" y2="140.8"/>
<line x1="325" y1="141.2" x2="301.9" y2="155"/>
<line x1="325" y1="141.2" x2="319.8" y2="157.7"/>
<line x1="354.2" y1="140.8" x2="360" y2="157.9"/>
<line x1="354.2" y1="140.8" x2="378.8" y2="154.8"/>
<line x1="301.9" y1="155" x2="319.8" y2="157.7"/>
<line x1="360" y1="157.9" x2="378.8" y2="154.8"/>
<line x1="319.8" y1="157.7" x2="339" y2="166.9"/>
<line x1="360" y1="157.9" x2="339" y2="166.9"/>
<line x1="301.9" y1="155" x2="288.6" y2="177"/>
<line x1="378.8" y1="154.8" x2="389.1" y2="176.5"/>
<line x1="319.8" y1="157.7" x2="312.9" y2="180.3"/>
<line x1="360" y1="157.9" x2="367.4" y2="180.6"/>
<line x1="288.6" y1="177" x2="298.8" y2="192.4"/>
<line x1="312.9" y1="180.3" x2="298.8" y2="192.4"/>
<line x1="367.4" y1="180.6" x2="380.5" y2="192.5"/>
<line x1="389.1" y1="176.5" x2="380.5" y2="192.5"/>
<line x1="288.6" y1="177" x2="286.9" y2="206"/>
<line x1="389.1" y1="176.5" x2="389.5" y2="206.8"/>
<line x1="298.8" y1="192.4" x2="286.9" y2="206"/>
<line x1="298.8" y1="192.4" x2="312.9" y2="211.8"/>
<line x1="380.5" y1="192.5" x2="389.5" y2="206.8"/>
<line x1="380.5" y1="192.5" x2="366.2" y2="211.2"/>
<line x1="286.9" y1="206" x2="299.8" y2="228.4"/>
<line x1="312.9" y1="211.8" x2="299.8" y2="228.4"/>
<line x1="312.9" y1="211.8" x2="321.4" y2="232.3"/>
<line x1="366.2" y1="211.2" x2="358.8" y2="231.2"/>
<line x1="366.2" y1="211.2" x2="379.5" y2="228.9"/>
<line x1="389.5" y1="206.8" x2="379.5" y2="228.9"/>
<line x1="299.8" y1="228.4" x2="321.4" y2="232.3"/>
<line x1="358.8" y1="231.2" x2="379.5" y2="228.9"/>
<line x1="321.4" y1="232.3" x2="340" y2="223.1"/>
<line x1="358.8" y1="231.2" x2="340" y2="223.1"/>
<line x1="299.8" y1="228.4" x2="325" y2="247.6"/>
<line x1="321.4" y1="232.3" x2="325" y2="247.6"/>
<line x1="358.8" y1="231.2" x2="351.7" y2="247.2"/>
<line x1="379.5" y1="228.9" x2="351.7" y2="247.2"/>
<line x1="325" y1="247.6" x2="351.7" y2="247.2"/>
<line x1="339" y1="166.9" x2="340.4" y2="192.4"/>
<line x1="312.9" y1="180.3" x2="340.4" y2="192.4"/>
<line x1="367.4" y1="180.6" x2="340.4" y2="192.4"/>
<line x1="312.9" y1="211.8" x2="340.4" y2="192.4"/>
<line x1="366.2" y1="211.2" x2="340.4" y2="192.4"/>
<line x1="340" y1="223.1" x2="340.4" y2="192.4"/>
<line x1="299.8" y1="230.6" x2="321.4" y2="234.4"/>
<line x1="358.8" y1="233.4" x2="379.5" y2="231"/>
</g>
<g fill="url(#atomG)">
<circle cx="325" cy="141.2" r="6.9"/>
<circle cx="339" cy="140.2" r="6.9"/>
<circle cx="354.2" cy="140.8" r="6.9"/>
<circle cx="301.9" cy="155" r="6.9"/>
<circle cx="319.8" cy="157.7" r="6.9"/>
<circle cx="339" cy="166.9" r="6.9"/>
<circle cx="360" cy="157.9" r="6.9"/>
<circle cx="378.8" cy="154.8" r="6.9"/>
<circle cx="288.6" cy="177" r="6.9"/>
<circle cx="312.9" cy="180.3" r="6.9"/>
<circle cx="367.4" cy="180.6" r="6.9"/>
<circle cx="389.1" cy="176.5" r="6.9"/>
<circle cx="298.8" cy="192.4" r="6.9"/>
<circle cx="380.5" cy="192.5" r="6.9"/>
<circle cx="286.9" cy="206" r="6.9"/>
<circle cx="312.9" cy="211.8" r="6.9"/>
<circle cx="366.2" cy="211.2" r="6.9"/>
<circle cx="389.5" cy="206.8" r="6.9"/>
<circle cx="299.8" cy="228.4" r="6.9"/>
<circle cx="321.4" cy="232.3" r="6.9"/>
<circle cx="340" cy="223.1" r="6.9"/>
<circle cx="358.8" cy="231.2" r="6.9"/>
<circle cx="379.5" cy="228.9" r="6.9"/>
<circle cx="325" cy="247.6" r="6.9"/>
<circle cx="351.7" cy="247.2" r="6.9"/>
<circle cx="340.4" cy="192.4" r="9.6"/>
</g></g>
<line x1="270" y1="110" x2="340.5" y2="192.8" stroke="#e81c1c" stroke-width="1.15"/>
<line x1="414.7" y1="108" x2="340.5" y2="192.8" stroke="#e81c1c" stroke-width="1.15"/>

<!-- ===== Excitation ===== -->
<path d="M243.7 137.5 C246.8 144.4 251.2 151.2 255.8 156.8 L247.7 155.6 L247.1 272.6 Q247.1 273.9 245.9 273.9 L242.1 273.9 Q240.9 273.9 240.9 272.6 L239.8 155.8 L231.1 157.8 C236 151.6 240.6 144.6 243.7 137.5 Z" fill="url(#excG)"/>
<text class="lbl" transform="translate(233.5 209) rotate(-90) scale(0.945 1)" text-anchor="middle" style="font-size:19.6px">Excitation</text>
<!-- ===== Emission ===== -->
<path d="M387 192.3C387.5 191.8 388.7 192.0 390 191.5C391.3 191.0 393.1 190.4 395 189.3C396.9 188.2 399.2 186.8 401.7 185C404.2 183.2 407.2 180.8 410 178.3C412.8 175.8 415.5 172.8 418.3 170C421.1 167.2 423.9 164.3 426.7 161.7C429.5 159.1 432.5 156.2 435 154.2C437.5 152.1 439.6 150.5 441.7 149.4C443.8 148.3 445.9 147.7 447.5 147.6C449.1 147.5 449.9 148.0 451 148.8C452.1 149.6 452.8 150.3 453.8 152.2C454.8 154.1 455.9 156.5 456.9 160C457.9 163.5 459.1 168.3 460 173.3C460.9 178.3 461.5 184.4 462 190C462.5 195.6 462.9 201.4 463.2 206.7C463.5 212.0 463.6 216.8 463.6 222C463.6 227.2 463.6 233.9 463.3 238C463.0 242.1 462.7 244.3 462 246.5C461.3 248.7 460.2 250.0 459 250.9C457.8 251.8 456.2 252.0 455 251.9C453.8 251.8 452.6 251.1 451.5 250.3C450.4 249.5 450.2 249.3 448.3 247.3C446.4 245.3 443.1 241.9 440 238.3C436.9 234.7 433.6 229.9 430 225.8C426.4 221.7 421.3 216.3 418.3 213.5C415.3 210.7 414.1 210.2 412 208.8C409.9 207.4 407.7 206.3 406 205.2C404.3 204.1 403.5 203.6 401.7 202.3C399.9 201.1 396.9 198.9 395 197.7C393.1 196.5 391.3 195.8 390 195.3C388.7 194.8 387.5 195.0 387 194.5C386.5 194.0 386.5 192.8 387 192.3Z" fill="url(#emG)"/>
<text class="lbl" transform="translate(477.3 209.1) rotate(-90) scale(0.945 1)" text-anchor="middle" style="font-size:19.6px">Emission</text>

<!-- ===== CQDs + arrow ===== -->
<text x="343.3" y="295.8" text-anchor="middle" style="font-family:'Liberation Serif',serif;font-weight:bold;font-size:18.5px;fill:#ee1111">CQDs</text>
<path d="M336.8 302 H347.6 V330.6 H353 L342.5 346.2 L331.8 330.6 H336.8 Z" fill="#e8922a"/>

<!-- ===== Dashed green box ===== -->
<rect x="215.5" y="349.5" width="263" height="64" fill="none" stroke="#62c274" stroke-width="1" stroke-dasharray="3.5 2.1"/>
<g id="badges">
<rect x="222.5" y="370.3" width="66.3" height="24.8" fill="#fff" stroke="#d4d4d4" stroke-width="0.5"/>
<rect x="224.3" y="372.3" width="18.9" height="20.5" rx="1.5" fill="#3e8e3c"/>
<rect x="245.3" y="372.3" width="41.5" height="20.5" rx="1.5" fill="#3e8e3c"/>
<text x="266.1" y="388.7" text-anchor="middle" textLength="38.4" lengthAdjust="spacingAndGlyphs" style="font-size:17px;font-weight:bold;fill:#fff">SAFE</text>
<circle cx="324.5" cy="383.4" r="21.8" fill="#8fc4f6"/>
<circle cx="324.5" cy="383.4" r="18.6" fill="#a9d4fa"/>
<circle cx="324.5" cy="383.4" r="15.5" fill="#c6e4fc"/>
<path d="M302 378 H347.2 C347.4 386 344.6 393.5 339 398.2 C334.5 400.6 329 401 324.5 401 C320 401 314.5 400.6 310 398.200 C304.600 393.500 301.800 386 302 378 Z" fill="#6fd142"/>
<path d="M302 378 H347.2 C347.3 379.4 347.3 380.4 347.200 381.200 H302 C301.900 380.400 301.900 379.400 302 378 Z" fill="#5abf36"/>
<path d="M307.3 359.6 C314 359 322 361 324.6 368.6 L324.6 378 C316 378.8 308.6 374 307.3 359.6 Z" fill="#8ede5a"/>
<path d="M341.9 359.6 C335.2 359 327.2 361 324.6 368.600 L324.600 378 C333.200 378.800 340.600 374 341.900 359.600 Z" fill="#7fd84e"/>
<g stroke="#38983a" stroke-width="0.9" fill="none" stroke-linecap="round">
<path d="M324.6 378.4 L311.6 364.2 M320.2 373.6 L320.4 368.6 M320.2 373.600 L315.200 373.200 M316.600 369.600 L316.800 365.400 M316.600 369.600 L312.400 369.200 M313.600 366.400 L313.800 363.400 M313.600 366.400 L310.600 366"/>
<path d="M324.6 378.4 L337.6 364.2 M329 373.6 L328.800 368.600 M329 373.600 L334 373.200 M332.600 369.600 L332.400 365.400 M332.600 369.600 L336.800 369.200 M335.600 366.400 L335.400 363.400 M335.600 366.400 L338.600 366"/>
</g>
<text x="324.6" y="388.2" text-anchor="middle" textLength="17.6" lengthAdjust="spacingAndGlyphs" style="font-size:8.6px;font-weight:bold;fill:#fff">NON</text>
<text x="324.6" y="397.2" text-anchor="middle" textLength="22.6" lengthAdjust="spacingAndGlyphs" style="font-size:8.6px;font-weight:bold;fill:#fff">TOXIC</text>
<path d="M376 380.4 C374.600 371.500 381 363 397.900 358.500 C397.500 367 392 377.500 376 380.400 Z" fill="#74be3a"/>
<path d="M375.400 380.600 C368.500 381 363.200 374 363 362.100 C368.500 363.500 376 369 375.400 380.600 Z" fill="#74be3a"/>
<path d="M376.400 378.600 C375.400 385 373.900 390.500 373.500 396.600" stroke="#74be3a" stroke-width="1.5" fill="none" stroke-linecap="round"/>
<path d="M376.900 380.200 C377 372 383 366 389 364" stroke="#fff" stroke-width="0.8" fill="none"/>
<path d="M374.400 381.800 C373.500 375.500 370.500 371 366.500 369" stroke="#fff" stroke-width="0.7" fill="none"/>
<text x="385.200" y="388.400" textLength="18" lengthAdjust="spacingAndGlyphs" style="font-size:10.400px;fill:#62b430;stroke:#62b430;stroke-width:0.2">ECO</text>
<text x="376.800" y="399.500" textLength="35" lengthAdjust="spacingAndGlyphs" style="font-size:10.600px;fill:#62b430;stroke:#62b430;stroke-width:0.15">Friendly</text>
<path d="M471.4 381.8Q472.8 383.9 471.1 385.7Q472.1 388.0 470.2 389.4Q470.8 391.9 468.6 392.9Q468.9 395.5 466.6 396.1Q466.4 398.6 464.0 398.9Q463.5 401.3 461.1 401.1Q460.1 403.4 457.8 402.8Q456.5 404.8 454.4 403.8Q452.7 405.5 450.8 404.1Q448.9 405.5 447.2 403.8Q445.1 404.8 443.8 402.8Q441.5 403.4 440.5 401.1Q438.1 401.3 437.6 398.9Q435.2 398.6 435.0 396.1Q432.7 395.5 433.0 393.0Q430.8 391.9 431.4 389.4Q429.5 388.0 430.5 385.7Q428.8 383.9 430.2 381.8Q428.8 379.7 430.5 377.9Q429.5 375.6 431.4 374.2Q430.8 371.7 433.0 370.7Q432.7 368.1 435.0 367.5Q435.2 365.0 437.6 364.7Q438.1 362.3 440.5 362.5Q441.5 360.2 443.8 360.8Q445.1 358.8 447.2 359.8Q448.9 358.1 450.8 359.5Q452.7 358.1 454.4 359.8Q456.5 358.8 457.8 360.8Q460.1 360.2 461.1 362.5Q463.5 362.3 464.0 364.7Q466.4 365.0 466.6 367.5Q468.9 368.1 468.6 370.7Q470.8 371.7 470.2 374.2Q472.1 375.6 471.1 377.9Q472.8 379.7 471.4 381.8Z" fill="#7cc331"/>
<ellipse cx="450.8" cy="381.8" rx="18.4" ry="20" fill="none" stroke="#eaf6d8" stroke-width="0.5"/>
<ellipse cx="450.8" cy="381.8" rx="12.8" ry="14.2" fill="none" stroke="#eaf6d8" stroke-width="0.5"/>
<path id="susT" d="M435.40000000000003 381.8 A15.4 16.8 0 0 1 466.2 381.8" fill="none"/>
<path id="susB" d="M434.0 381.8 A16.800 18.400 0 0 0 467.6 381.8" fill="none"/>
<text style="font-size:3.3px;font-weight:bold;fill:#f2fae6;letter-spacing:0.5px"><textPath href="#susT" startOffset="50%" text-anchor="middle">SUSTAINABLE</textPath></text>
<text style="font-size:3.3px;font-weight:bold;fill:#f2fae6;letter-spacing:0.5px"><textPath href="#susB" startOffset="50%" text-anchor="middle">SUSTAINABLE</textPath></text>
<circle cx="434.8" cy="382.8" r="0.5" fill="#f2fae6"/><circle cx="466.8" cy="382.8" r="0.5" fill="#f2fae6"/>
<g transform="translate(450.8 382.40000000000003)" fill="none" stroke="#f4fbe8" stroke-width="0.8" stroke-linejoin="round">
<g transform="rotate(0)"><path d="M-1.600 -8.800 L2.200 -8.800 L6.400 -1.600 L8 -2.600 L6.600 2.200 L1.800 1 L3.400 0 L0.200 -5.600 L-1.600 -2.800 L-4.400 -4.400 Z"/></g>
<g transform="rotate(120)"><path d="M-1.600 -8.800 L2.200 -8.800 L6.400 -1.600 L8 -2.600 L6.600 2.200 L1.800 1 L3.400 0 L0.200 -5.600 L-1.600 -2.800 L-4.400 -4.400 Z"/></g>
<g transform="rotate(240)"><path d="M-1.600 -8.800 L2.200 -8.800 L6.400 -1.600 L8 -2.600 L6.600 2.200 L1.800 1 L3.400 0 L0.200 -5.600 L-1.600 -2.800 L-4.400 -4.400 Z"/></g>
</g>
</g>
<!--BADGES-->
</svg>
</body>
</html>
